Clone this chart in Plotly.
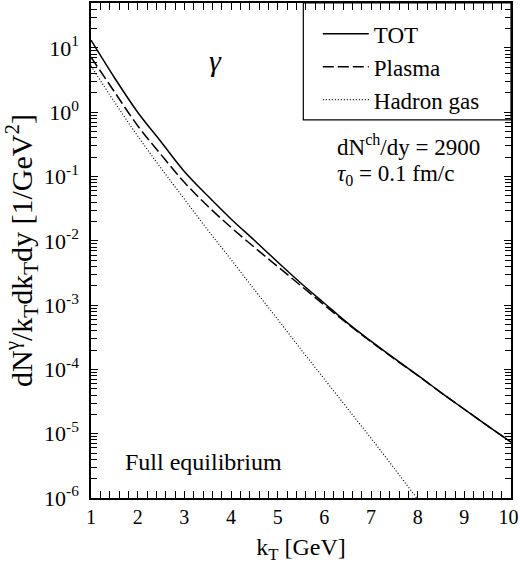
import plotly.graph_objects as go

kt = [1.0, 1.5, 2.0, 2.5, 3.0, 3.5, 4.0, 4.5, 5.0, 5.5, 6.0, 6.5, 7.0, 7.5, 8.0, 8.5, 9.0, 9.5, 10.0]
tot = [13.2, 3.47, 1.0, 0.347, 0.120, 0.0501, 0.0219, 0.0102, 0.00468, 0.00219, 0.00107,
       5.25e-4, 2.75e-4, 1.48e-4, 8.13e-5, 4.37e-5, 2.40e-5, 1.32e-5, 7.4e-6]
plasma = [7.16, 2.09, 0.617, 0.219, 0.0813, 0.0347, 0.0162, 0.00794, 0.00398, 0.00200, 0.00100,
          5.13e-4, 2.69e-4, 1.46e-4, 8.04e-5, 4.36e-5, 2.40e-5, 1.32e-5, 7.4e-6]
kt_had = [1.0, 1.5, 2.0, 2.5, 3.0, 3.5, 4.0, 4.5, 5.0, 5.5, 6.0, 6.5, 7.0, 7.5, 8.0]
hadron = [5.25, 1.45, 0.427, 0.135, 0.0447, 0.0148, 0.00513, 0.00174, 6.03e-4, 2.04e-4,
          7.08e-5, 2.45e-5, 8.51e-6, 2.88e-6, 9.55e-7]

ytick_vals = [1e-6, 1e-5, 1e-4, 1e-3, 1e-2, 1e-1, 1, 10]
ytick_text = ["10<sup>-6</sup>", "10<sup>-5</sup>", "10<sup>-4</sup>", "10<sup>-3</sup>",
              "10<sup>-2</sup>", "10<sup>-1</sup>", "10<sup>0</sup>", "10<sup>1</sup>"]
xtick_vals = [1, 2, 3, 4, 5, 6, 7, 8, 9, 10]
xtick_text = ["1", "2", "3", "4", "5", "6", "7", "8", "9", "10&nbsp;"]
minor_y = [m * 10.0 ** e for e in range(-6, 2) for m in range(2, 10) if m * 10.0 ** e <= 50]

FONT = "Liberation Serif"
YRANGE = [-6, 1.699]

fig = go.Figure()
fig.add_trace(go.Scatter(x=kt, y=tot, mode="lines", name="TOT",
                         line=dict(color="black", width=1.5, shape="spline", smoothing=1.0)))
fig.add_trace(go.Scatter(x=kt, y=plasma, mode="lines", name="Plasma",
                         line=dict(color="black", width=1.5, dash="11px,4px", shape="spline", smoothing=1.0)))
fig.add_trace(go.Scatter(x=kt_had, y=hadron, mode="lines", name="Hadron gas",
                         line=dict(color="black", width=1.2, dash="1px,2px", shape="spline", smoothing=1.0)))
# empty trace so the minor-tick overlay axis is drawn
fig.add_trace(go.Scatter(x=[None], y=[None], yaxis="y2", showlegend=False, hoverinfo="skip"))

fig.update_layout(
    width=520, height=567,
    margin=dict(l=91, r=9, t=3, b=69),
    paper_bgcolor="white", plot_bgcolor="white",
    font=dict(family=FONT, color="black", size=22),
    showlegend=True,
    legend=dict(x=0.540, y=0.981, xanchor="left", yanchor="top",
                borderwidth=0, bgcolor="rgba(0,0,0,0)", itemwidth=46,
                font=dict(family=FONT, size=23), tracegroupgap=0),
    xaxis=dict(range=[1, 10], showgrid=False, zeroline=False, automargin=False,
               showline=True, linecolor="black", linewidth=1.5, mirror="allticks",
               ticks="inside", ticklen=7, tickwidth=1.2, tickcolor="black",
               tickmode="array", tickvals=xtick_vals, ticktext=xtick_text, ticklabeloverflow="allow",
               tickfont=dict(family=FONT, size=20),
               minor=dict(ticks="inside", ticklen=4, tickwidth=1, tickcolor="black", dtick=0.2, tick0=1, showgrid=False),
               title=dict(text="k<sub>T</sub> [GeV]", font=dict(family=FONT, size=24), standoff=11)),
    yaxis=dict(type="log", range=YRANGE, showgrid=False, zeroline=False, automargin=False,
               showline=True, linecolor="black", linewidth=1.5, mirror="allticks",
               ticks="inside", ticklen=7, tickwidth=1.2, tickcolor="black",
               tickmode="array", tickvals=ytick_vals, ticktext=ytick_text,
               tickfont=dict(family=FONT, size=22), ticklabelstandoff=6,
               title=dict(text="dN<sup>γ</sup>/k<sub>T</sub>dk<sub>T</sub>dy [1/GeV<sup>2</sup>]",
                          font=dict(family=FONT, size=30), standoff=4)),
    yaxis2=dict(type="log", range=YRANGE, overlaying="y", side="left", anchor="x",
                showgrid=False, zeroline=False, automargin=False, showline=False,
                mirror="ticks", ticks="inside", ticklen=6, tickwidth=1, tickcolor="black",
                tickmode="array", tickvals=minor_y, showticklabels=False),
)

# legend frame
fig.add_shape(type="rect", xref="paper", yref="paper", x0=0.5055, x1=1.0, y0=0.764, y1=1.0,
              line=dict(color="black", width=1.2), fillcolor="rgba(0,0,0,0)", layer="above")

fig.add_annotation(x=0.297, y=0.883, xref="paper", yref="paper", text="<i>γ</i>",
                   showarrow=False, font=dict(family=FONT, size=30), xanchor="center", yanchor="middle")
fig.add_annotation(x=0.581, y=0.712, xref="paper", yref="paper", text="dN<sup>ch</sup>/dy = 2900",
                   showarrow=False, font=dict(family=FONT, size=23), xanchor="left", yanchor="middle")
fig.add_annotation(x=0.581, y=0.653, xref="paper", yref="paper", text="<i>τ</i><sub>0</sub> = 0.1 fm/c",
                   showarrow=False, font=dict(family=FONT, size=23), xanchor="left", yanchor="middle")
fig.add_annotation(x=0.075, y=0.072, xref="paper", yref="paper", text="Full equilibrium",
                   showarrow=False, font=dict(family=FONT, size=24), xanchor="left", yanchor="middle")

fig.write_html("out.html", config={"displayModeBar": False},
               post_script="document.body.style.margin='0px';")
